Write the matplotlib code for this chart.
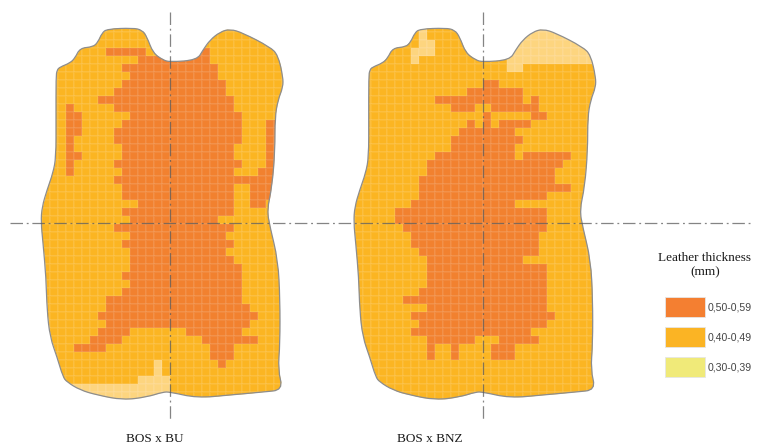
import numpy as np
import matplotlib
matplotlib.use("Agg")
import matplotlib.pyplot as plt
from matplotlib.path import Path
from matplotlib.patches import PathPatch, Rectangle
from matplotlib.colors import ListedColormap

# ---------------- data ----------------
categories = ["0,50-0,59", "0,40-0,49", "0,30-0,39"]
hide_labels = ["BOS x BU", "BOS x BNZ"]
legend_title = "Leather thickness\n(mm)"
N_ROWS, N_COLS = 48, 32

# cells in class 0,50-0,59 : row -> list of (first_col, last_col)
BU_HIGH = {
    3: [(9, 13), (20, 21)], 4: [(13, 21)], 5: [(11, 22)], 6: [(12, 22)],
    7: [(11, 23)], 8: [(10, 23)], 9: [(8, 24)], 10: [(4, 4), (10, 24)],
    11: [(4, 5), (12, 25)], 12: [(4, 5), (11, 25), (29, 31)],
    13: [(4, 5), (10, 25), (29, 31)], 14: [(4, 4), (10, 25), (29, 31)],
    15: [(4, 4), (11, 24), (29, 31)], 16: [(4, 5), (11, 24), (29, 31)],
    17: [(4, 4), (10, 25), (29, 31)], 18: [(4, 4), (11, 24), (28, 31)],
    19: [(10, 31)], 20: [(11, 24), (27, 31)], 21: [(11, 24), (27, 31)],
    22: [(13, 24), (27, 28)], 23: [(11, 24)], 24: [(12, 22)], 25: [(10, 24)],
    26: [(12, 23)], 27: [(11, 24)], 28: [(12, 23)], 29: [(12, 24)],
    30: [(12, 25)], 31: [(11, 25)], 32: [(12, 25)], 33: [(11, 25)],
    34: [(9, 25)], 35: [(9, 26)], 36: [(8, 27)], 37: [(9, 26)],
    38: [(8, 11), (19, 25)], 39: [(7, 10), (21, 27)], 40: [(5, 8), (22, 24)],
    41: [(22, 24)], 42: [(23, 23)],
}
# cells in class 0,30-0,39
BU_LOW = {42: [(15, 15)], 43: [(15, 15)], 44: [(13, 16)], 45: [(3, 16)],
          46: [(3, 15)], 47: [(3, 15)]}

BNZ_HIGH = {
    7: [(17, 18)], 8: [(15, 21)], 9: [(11, 21), (23, 23)],
    10: [(13, 15), (18, 23)], 11: [(17, 17), (23, 24)],
    12: [(15, 15), (17, 17), (19, 22)], 13: [(14, 20)], 14: [(13, 21)],
    15: [(13, 20)], 16: [(11, 20), (22, 27)], 17: [(10, 26)], 18: [(10, 25)],
    19: [(9, 25)], 20: [(9, 27)], 21: [(9, 24)], 22: [(8, 20)], 23: [(6, 24)],
    24: [(6, 24)], 25: [(7, 24)], 26: [(8, 23)], 27: [(8, 23)], 28: [(9, 23)],
    29: [(10, 21)], 30: [(10, 24)], 31: [(10, 24)], 32: [(10, 24)],
    33: [(9, 24)], 34: [(7, 24)], 35: [(10, 24)], 36: [(8, 25)], 37: [(9, 24)],
    38: [(8, 22)], 39: [(10, 15), (19, 23)], 40: [(10, 10), (13, 13), (18, 20)],
    41: [(10, 10), (13, 13), (18, 20)],
}
BNZ_LOW = {0: [(9, 9), (20, 31)], 1: [(9, 9), (20, 31)], 2: [(9, 10), (20, 31)],
           3: [(8, 10), (20, 31)], 4: [(8, 8), (20, 31)], 5: [(20, 21)]}

# hide outline, x relative to the hide's centre line
OUTLINE_DX = [-63, -37, -28, -23, -17, -7, 0, 27, 33, 40, 50, 60, 73, 100, 108,
              113, 113, 108, 105, 105, 102, 97, 100, 108, 110, 110, 108, 113, 93,
              60, 27, 0, -7, -23, -47, -73, -90, -103, -107, -113, -120, -123,
              -124, -127, -129, -128, -123, -117, -114, -114, -114, -113, -110,
              -100, -95, -90, -77, -72, -68]
OUTLINE_Y = [29, 28, 30, 37, 53, 60, 62, 60, 50, 40, 32, 29, 33, 47, 55, 77, 87,
             100, 117, 150, 187, 210, 227, 260, 300, 343, 370, 390, 392, 395, 398,
             392, 392, 397, 400, 395, 390, 382, 377, 357, 337, 310, 277, 243, 222,
             207, 190, 173, 157, 120, 77, 70, 67, 63, 58, 48, 47, 42, 33]

# ---------------- style / layout ----------------
MAP_COLORS = ["#fdd57f", "#fbb522", "#f2812f"]      # low, mid, high (in maps)
LEG_COLORS = ["#f47f31", "#fbb424", "#f0ea79"]      # legend swatches
CELL = 8.0
GRID_TOP = 24.0
CENTERS = [170.0, 482.7]
H_LINE_Y = 222.5


def build_matrix(high, low):
    m = np.ones((N_ROWS, N_COLS), dtype=int)
    for r, runs in high.items():
        for a, b in runs:
            m[r, a:b + 1] = 2
    for r, runs in low.items():
        for a, b in runs:
            m[r, a:b + 1] = 0
    return m


def smooth_closed_path(xs, ys):
    pts = np.column_stack([xs, ys]).astype(float)
    mids = (pts + np.roll(pts, -1, axis=0)) / 2.0
    verts = [mids[-1]]
    codes = [Path.MOVETO]
    for i in range(len(pts)):
        verts += [pts[i], mids[i]]
        codes += [Path.CURVE3, Path.CURVE3]
    verts.append(mids[-1])
    codes.append(Path.CLOSEPOLY)
    return Path(verts, codes)


fig = plt.figure(figsize=(7.59, 4.44), dpi=100)
ax = fig.add_axes([0, 0, 1, 1])
ax.set_xlim(0, 759)
ax.set_ylim(444, 0)
ax.axis("off")

cmap = ListedColormap(MAP_COLORS)
hides = [(BU_HIGH, BU_LOW), (BNZ_HIGH, BNZ_LOW)]
label_x = [155, 430]
dash = (0, (10, 3, 1.5, 3))

for (high, low), cx, lab, lx in zip(hides, CENTERS, hide_labels, label_x):
    mat = build_matrix(high, low)
    x0 = cx - 17 * CELL
    xe = x0 + CELL * np.arange(N_COLS + 1)
    ye = GRID_TOP + CELL * np.arange(N_ROWS + 1)
    mesh = ax.pcolormesh(xe, ye, mat, cmap=cmap, vmin=-0.5, vmax=2.5,
                         edgecolors=(1, 1, 1, 0.07), linewidth=0.3, zorder=1)
    outline = smooth_closed_path(np.array(OUTLINE_DX) + cx, OUTLINE_Y)
    patch = PathPatch(outline, facecolor="none", edgecolor="#8d8d8d",
                      linewidth=0.9, zorder=3)
    ax.add_patch(patch)
    mesh.set_clip_path(patch)
    ax.plot([cx, cx], [12, 422], color="#5b5b5b", alpha=0.75, lw=0.9,
            linestyle=dash, zorder=4)
    ax.text(lx, 438.5, lab, ha="center", va="center", fontsize=9.5,
            family="Liberation Serif", color="#1a1a1a")

ax.plot([10, 752], [H_LINE_Y, H_LINE_Y], color="#5b5b5b", alpha=0.75, lw=0.9,
        linestyle=dash, zorder=4)

# legend
ax.text(705, 265, legend_title, ha="center", va="center", fontsize=9.5,
        family="Liberation Serif", color="#1a1a1a", linespacing=1.25)
for i, (cat, col) in enumerate(zip(categories, LEG_COLORS)):
    y = 297 + 30 * i
    ax.add_patch(Rectangle((665, y), 40, 20, facecolor=col, edgecolor="#e6e6e6",
                           linewidth=0.6, zorder=2))
    ax.text(707.5, y + 10, cat, ha="left", va="center", fontsize=7.6,
            family="Liberation Sans", color="#444444")

fig.savefig("out.png", dpi=100)
